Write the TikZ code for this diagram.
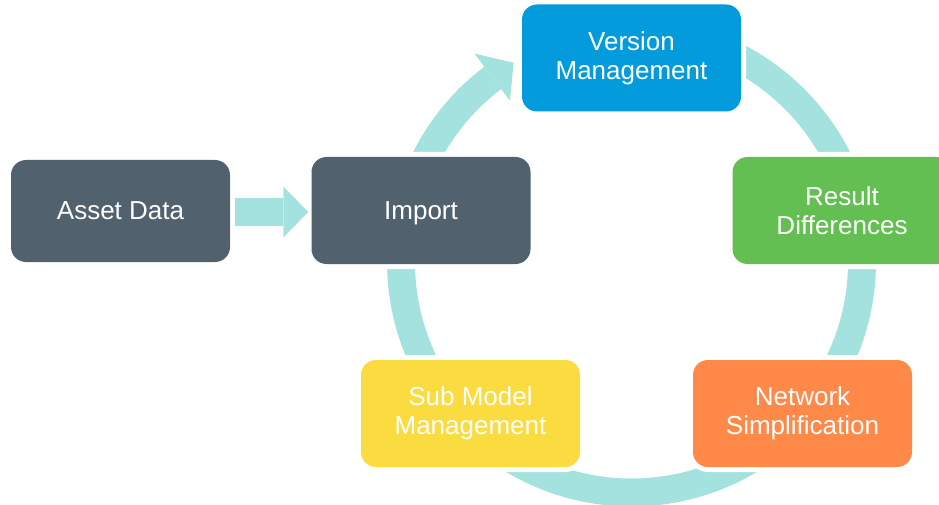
\documentclass[tikz,border=0pt]{standalone}
\usepackage{fontspec}
\setmainfont{Liberation Sans}

\definecolor{slate}{RGB}{81,98,110}
\definecolor{vmblue}{RGB}{3,155,220}
\definecolor{rdgreen}{RGB}{99,191,82}
\definecolor{nsorange}{RGB}{255,137,72}
\definecolor{smyellow}{RGB}{250,220,64}
\definecolor{ringcol}{RGB}{163,226,222}

\tikzset{
  stepbox/.style={rectangle, rounded corners=15pt, minimum width=219pt, minimum height=107pt,
    inner sep=0pt, text=white, align=center, font=\fontsize{26}{29}\selectfont,
    preaction={draw=white, line width=10pt}},
}

\begin{document}
\begin{tikzpicture}[x=1pt, y=1pt]
            \useasboundingbox (0,0) rectangle (939,504);
            \coordinate (hub) at (631.5,242);
            \draw[ringcol, line width=28pt] ([shift={(90:230.5pt)}]hub) arc[start angle=90, end angle=-233, radius=230.5pt];
            \fill[ringcol] ([shift={(127:202pt)}]hub) -- ([shift={(120.6:231.5pt)}]hub) -- ([shift={(127:261pt)}]hub) -- cycle;
            \node[stepbox, fill=slate, minimum height=102pt, text depth=0pt] (asset) at (120.5,293) {Asset Data};
            \node[stepbox, fill=slate, text depth=0pt] (import) at (421,293.5) {Import};
            \node[stepbox, fill=vmblue] (version) at (631.5,446) {Version\\Management};
            \node[stepbox, fill=rdgreen] (result) at (842,293.5) {Result\\Differences};
            \node[stepbox, fill=nsorange] (network) at (802.5,90.5) {Network\\Simplification};
            \node[stepbox, fill=smyellow] (submodel) at (470.5,90.5) {Sub Model\\Management};
            \coordinate (from) at ([xshift=5pt,yshift=-1pt]asset.east);
            \coordinate (to) at ([xshift=-3pt,yshift=-1.5pt]import.west);
            \draw[ringcol, line width=28pt, shorten >=25pt] (from) -- (to);
            \fill[ringcol] (to) -- ++(-25,25.5) -- ++(0,-51) -- cycle;
        \end{tikzpicture}
\end{document}
